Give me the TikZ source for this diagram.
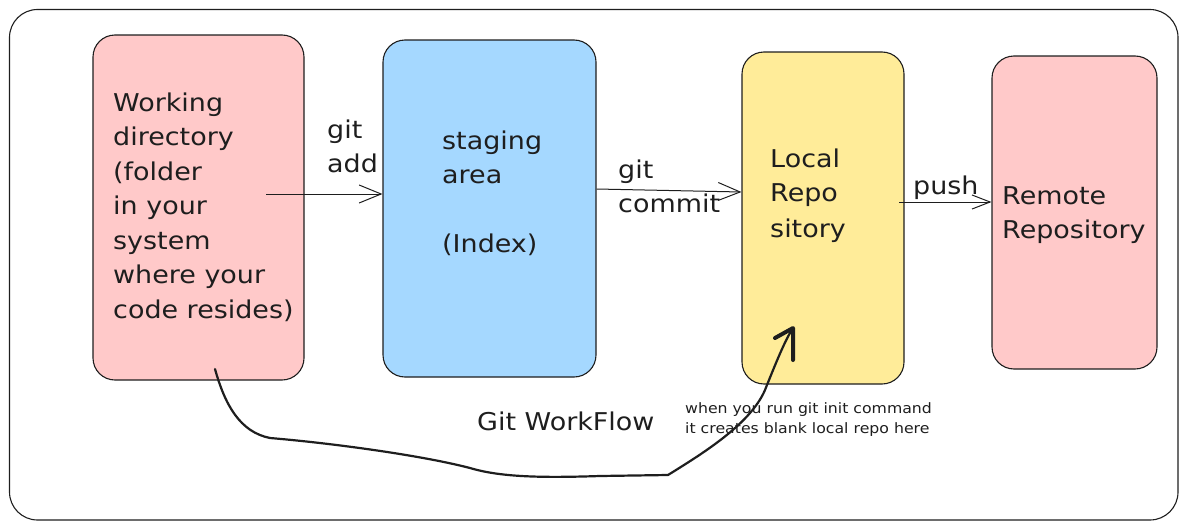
\documentclass[tikz,border=0pt]{standalone}
\usepackage{fontspec}
\usetikzlibrary{arrows.meta}
\newfontfamily\hand[FakeStretch=1.1]{DejaVu Sans}
\definecolor{ink}{HTML}{1E1E1E}
\definecolor{pinkf}{HTML}{FFC9C9}
\definecolor{bluef}{HTML}{A5D8FF}
\definecolor{yellowf}{HTML}{FFEC99}
\begin{document}
\begin{tikzpicture}[x=1pt,y=-1pt,
  box/.style={rectangle, draw=ink, line width=1.1pt, rounded corners=22pt, inner sep=0pt},
  txt/.style={anchor=base west, inner sep=0pt, text=ink, font=\hand\fontsize{24.5}{28}\selectfont},
  small/.style={anchor=base west, inner sep=0pt, text=ink, font=\hand\fontsize{14.3}{18}\selectfont},
  arr/.style={draw=ink, line width=1pt, -{Straight Barb[length=22pt,width=18pt]}},
  curve/.style={draw=ink, line width=2.2pt, line cap=round, line join=round},
]
\useasboundingbox (0,0) rectangle (1188,530);
% outer frame
\node[box, rounded corners=28pt, minimum width=1168.5pt, minimum height=510.5pt] (frame) at (593.75,264.75) {};
% boxes
\node[box, fill=pinkf, minimum width=211pt, minimum height=345pt] (wd) at (198.5,207.5) {};
\node[box, fill=bluef, minimum width=213pt, minimum height=337pt] (st) at (489.5,208.5) {};
\node[box, fill=yellowf, minimum width=162pt, minimum height=332pt] (lr) at (823,218) {};
\node[box, fill=pinkf, minimum width=165pt, minimum height=313pt] (rr) at (1074.5,212.5) {};
% box texts
\node[txt] (w1) at (113,111) {Working};
\node[txt] (w2) at (113,145.5) {directory};
\node[txt] (w3) at (113,180) {(folder};
\node[txt] (w4) at (113,214.5) {in your};
\node[txt] (w5) at (113,249) {system};
\node[txt] (w6) at (113,283.5) {where your};
\node[txt] (w7) at (113,318) {code resides)};
\node[txt] (s1) at (442,149) {staging};
\node[txt] (s2) at (442,183) {area};
\node[txt] (s3) at (442,252) {(Index)};
\node[txt] (l1) at (770,167) {Local};
\node[txt] (l2) at (770,201) {Repo};
\node[txt] (l3) at (770,237) {sitory};
\node[txt] (r1) at (1002,204) {Remote};
\node[txt] (r2) at (1002,238) {Repository};
% connector labels
\node[txt] (ga1) at (327,138) {git};
\node[txt] (ga2) at (327,172) {add};
\node[txt] (gc1) at (618,178) {git};
\node[txt] (gc2) at (618,212) {commit};
\node[txt] (ps) at (913,194) {push};
\node[txt] (title) at (477,430) {Git WorkFlow};
\node[small] (n1) at (685,413) {when you run git init command};
\node[small] (n2) at (685,433) {it creates blank local repo here};
% straight arrows
\coordinate (gaS) at (266,194);
\draw[arr] (gaS) -- (gaS -| st.west);
\draw[arr] (st.east |- 0,189) -- (lr.west |- 0,192);
\coordinate (psS) at (899,202);
\draw[arr, -{Straight Barb[length=18pt,width=14pt]}] (psS) -- (psS -| rr.west);
% init curve
\coordinate (c0) at (215,369);
\coordinate (c1) at (270,438);
\coordinate (c2) at (470,468);
\coordinate (c3) at (600,476);
\coordinate (c4) at (668,475);
\coordinate (c5) at (765,390);
\coordinate (tip) at (793,328);
\draw[curve] (c0) .. controls (225,405) and (240,432) .. (c1)
  .. controls (330,443) and (420,455) .. (c2)
  .. controls (500,477) and (540,478) .. (c3) -- (c4)
  .. controls (700,455) and (750,425) .. (c5)
  .. controls (775,365) and (785,340) .. (tip);
\draw[curve, line width=4pt] (775,338) -- (tip) -- (793,360);
\end{tikzpicture}
\end{document}
